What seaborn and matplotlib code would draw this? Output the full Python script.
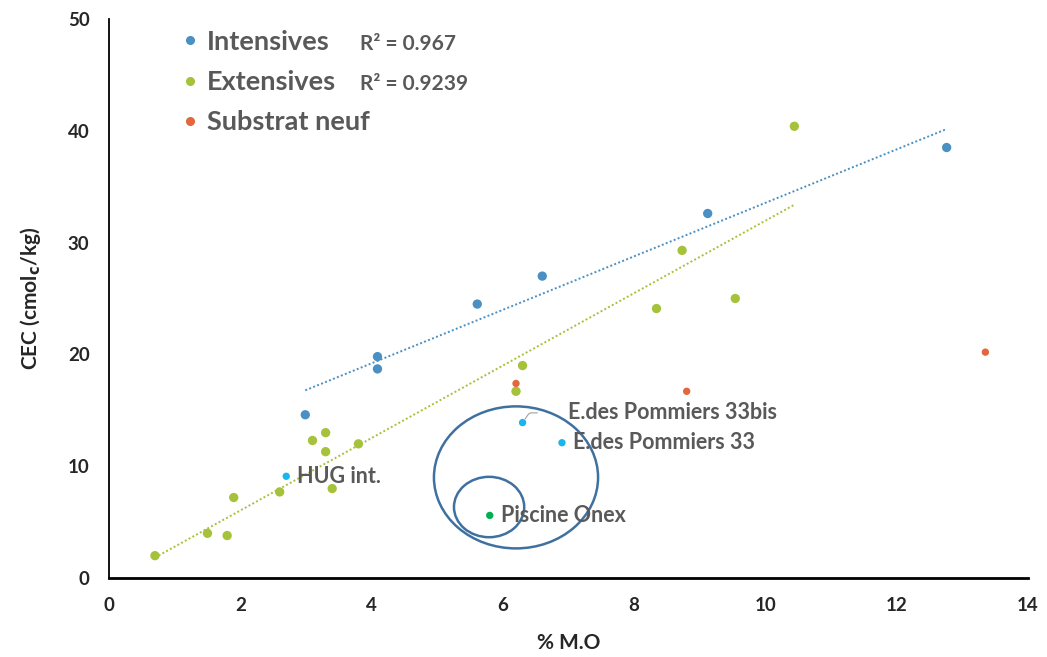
import numpy as np
import pandas as pd
import matplotlib
matplotlib.use("Agg")
import matplotlib.pyplot as plt
from matplotlib.patches import Ellipse
import seaborn as sns

# data
int_mo = [2.99, 4.09, 4.09, 5.61, 6.60, 9.12, 12.76]
int_cec = [14.6, 19.8, 18.7, 24.5, 27.0, 32.6, 38.5]

ext_mo = [0.70, 1.50, 1.80, 1.90, 2.60, 3.10, 3.30, 3.30, 3.40, 3.80,
          6.20, 6.30, 8.34, 8.73, 9.54, 10.44]
ext_cec = [2.0, 4.0, 3.8, 7.2, 7.7, 12.3, 13.0, 11.3, 8.0, 12.0,
           16.7, 19.0, 24.1, 29.3, 25.0, 40.4]

neuf_mo = [6.20, 8.80, 13.35]
neuf_cec = [17.4, 16.7, 20.2]

special_names = ["HUG int.", "E.des Pommiers 33bis", "E.des Pommiers 33", "Piscine Onex"]
special_mo = [2.70, 6.30, 6.90, 5.80]
special_cec = [9.1, 13.9, 12.1, 5.6]

r2_int = 0.967
r2_ext = 0.9239

c_int = "#4a90c2"
c_ext = "#a5c23a"
c_neuf = "#e3673a"
c_cyan = "#1ab6ea"
c_pisc = "#00b050"
grey = "#595959"

sns.set_style("white")
plt.rcParams["font.family"] = ["Lato", "DejaVu Sans"]

fig = plt.figure(figsize=(10.47, 6.57), dpi=100)
ax = fig.add_axes([0.1041, 0.1202, 0.8778, 0.851])

df = pd.concat([
    pd.DataFrame({"mo": int_mo, "cec": int_cec, "groupe": "Intensives"}),
    pd.DataFrame({"mo": ext_mo, "cec": ext_cec, "groupe": "Extensives"}),
    pd.DataFrame({"mo": neuf_mo, "cec": neuf_cec, "groupe": "Substrat neuf"}),
])
palette = {"Intensives": c_int, "Extensives": c_ext, "Substrat neuf": c_neuf}

# trend lines
sns.regplot(x=int_mo, y=int_cec, ci=None, scatter=False, ax=ax,
            line_kws=dict(color=c_int, ls=(0, (1, 1.2)), lw=1.4))
sns.regplot(x=ext_mo, y=ext_cec, ci=None, scatter=False, ax=ax,
            line_kws=dict(color=c_ext, ls=(0, (1, 1.2)), lw=1.4))

sns.scatterplot(data=df[df.groupe != "Substrat neuf"], x="mo", y="cec", hue="groupe",
                palette=palette, s=45, edgecolor="none", ax=ax, legend=False)
sns.scatterplot(data=df[df.groupe == "Substrat neuf"], x="mo", y="cec", color=c_neuf,
                s=28, edgecolor="none", ax=ax, legend=False)

sp_colors = [c_cyan, c_cyan, c_cyan, c_pisc]
sns.scatterplot(x=special_mo, y=special_cec, hue=special_names,
                palette=dict(zip(special_names, sp_colors)),
                s=28, edgecolor="none", ax=ax, legend=False)

# labels for special points
lab_font = dict(fontsize=15.5, fontweight="bold", color=grey)
ax.annotate(special_names[0], (special_mo[0], special_cec[0]), xytext=(8, 0),
            textcoords="offset points", va="center", **lab_font)
ax.annotate(special_names[1], (special_mo[1], special_cec[1]), xytext=(33, 7),
            textcoords="offset points", va="center",
            arrowprops=dict(arrowstyle="-", color="#a0a0a0", lw=0.8,
                            connectionstyle="angle,angleA=0,angleB=55,rad=2",
                            shrinkA=20, shrinkB=3), **lab_font)
ax.annotate(special_names[2], (special_mo[2], special_cec[2]), xytext=(8, 0),
            textcoords="offset points", va="center", **lab_font)
ax.annotate(special_names[3], (special_mo[3], special_cec[3]), xytext=(8, 0),
            textcoords="offset points", va="center", **lab_font)

# circled region
ax.add_patch(Ellipse((6.2, 9.0), 2.5, 12.7, fill=False, ec="#3f71a0", lw=1.8))
ax.add_patch(Ellipse((5.79, 6.35), 1.07, 5.4, fill=False, ec="#3f71a0", lw=1.8))

# legend
handles = [plt.Line2D([], [], ls="", marker="o", ms=5.5, color=c)
           for c in (c_int, c_ext, c_neuf)]
leg = ax.legend(handles, ["Intensives", "Extensives", "Substrat neuf"],
                loc="upper left", bbox_to_anchor=(0.0646, 1.0), frameon=False,
                borderaxespad=0, handletextpad=0.23, handlelength=0.8, labelspacing=0.6,
                prop=dict(family="Lato", weight="bold", size=19.5))
for t in leg.get_texts():
    t.set_color(grey)
ax.text(0.273, 0.955, f"R² = {r2_int}", transform=ax.transAxes, va="center",
        fontsize=15, fontweight="bold", color=grey)
ax.text(0.273, 0.884, f"R² = {r2_ext}", transform=ax.transAxes, va="center",
        fontsize=15, fontweight="bold", color=grey)

ax.set_xlim(0, 14)
ax.set_ylim(0, 50)
ax.set_xticks(range(0, 15, 2))
ax.set_yticks(range(0, 51, 10))
ax.tick_params(length=0, labelsize=13.5, pad=14)
for t in ax.get_xticklabels() + ax.get_yticklabels():
    t.set_fontweight("bold")
ax.set_xlabel("% M.O", fontsize=15, fontweight="bold", labelpad=13)
ax.set_ylabel("CEC (cmol$_\\mathbf{c}$/kg)", fontsize=15, fontweight="bold", labelpad=18)

sns.despine(ax=ax)
for side in ("left", "bottom"):
    ax.spines[side].set_color("black")
ax.spines["left"].set_linewidth(1.3)
ax.spines["bottom"].set_linewidth(2.0)

fig.savefig("out.png", dpi=100)
